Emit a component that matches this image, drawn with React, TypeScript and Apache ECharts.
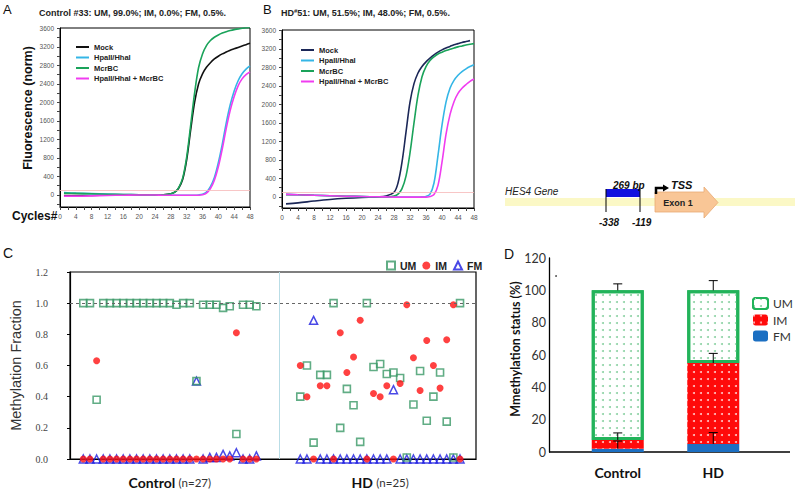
import React, { useEffect, useRef } from 'react';
import * as echarts from 'echarts';

const FONT = 'Liberation Sans';
const CAL = 'Lato';

// ---- Panel A / B : real-time PCR curves ----
const cycles = [1, 4, 8, 12, 16, 20, 24, 26, 28, 29, 30, 31, 32, 33, 34, 35, 36, 37, 38, 39, 40, 41, 42, 43, 44, 45, 46, 47, 48];
const fluorLabels = [0, 400, 800, 1200, 1600, 2000, 2400, 2800, 3200, 3600];
const fluorTicks = [-200, 0, 200, 400, 600, 800, 1000, 1200, 1400, 1600, 1800, 2000, 2200, 2400, 2600, 2800, 3000, 3200, 3400, 3600];
const curveNames = ['Mock', 'HpaII/HhaI', 'McrBC', 'HpaII/HhaI + McrBC'];

const mockA = [-15, -15, -10, -5, 0, 0, 0, 5, 25, 60, 150, 340, 760, 1400, 2000, 2400, 2620, 2760, 2860, 2940, 3000, 3050, 3090, 3130, 3160, 3190, 3220, 3250, 3280];
const hpaA = [50, 40, 30, 20, 10, 5, 0, -5, -5, -5, -5, -5, -5, -5, -5, 0, 15, 60, 180, 380, 700, 1100, 1560, 1950, 2250, 2470, 2620, 2720, 2790];
const mcrA = [40, 35, 25, 15, 10, 5, 0, 5, 25, 60, 160, 370, 820, 1500, 2200, 2750, 3050, 3230, 3340, 3410, 3460, 3500, 3530, 3555, 3575, 3590, 3605, 3615, 3625];
const bothA = [-25, -25, -20, -10, -5, 0, 0, -5, -5, -5, -5, -5, -5, -5, -5, -5, 5, 40, 140, 320, 610, 1000, 1440, 1830, 2130, 2360, 2510, 2600, 2660];

const mockB = [-150, -130, -90, -55, -30, -12, 0, 20, 100, 300, 750, 1400, 2050, 2450, 2680, 2820, 2920, 3000, 3070, 3130, 3180, 3220, 3255, 3290, 3315, 3340, 3360, 3380, null];
const hpaB = [55, 45, 35, 25, 15, 8, 2, 0, -5, -5, -5, -5, -5, -5, -5, 0, 10, 60, 300, 900, 1550, 2050, 2350, 2520, 2630, 2710, 2770, 2820, 2860];
const mcrB = [50, 45, 35, 25, 15, 8, 2, 0, 20, 60, 180, 450, 950, 1600, 2200, 2600, 2820, 2950, 3030, 3090, 3130, 3165, 3195, 3220, 3245, 3265, 3285, 3300, 3315];
const bothB = [55, 45, 35, 25, 15, 8, 2, 0, -5, -5, -5, -5, -5, -5, -5, -5, -5, 10, 50, 250, 750, 1350, 1780, 2060, 2240, 2350, 2430, 2500, 2550];
const threshold = 100;

// ---- Panel C : methylation fractions per sample ----
const controlUM = [1.0, 1.0, 0.38, 1.0, 1.0, 1.0, 1.0, 1.0, 1.0, 1.0, 1.0, 1.0, 1.0, 1.0, 0.99, 1.0, 1.0, 0.5, 0.99, 0.99, 0.99, 0.97, 0.98, 0.16, 0.99, 0.99, 0.98];
const controlIM = [0, 0, 0.63, 0, 0, 0, 0, 0, 0, 0, 0, 0, 0, 0, 0, 0, 0, 0, 0, 0, 0, 0, 0, 0.81, 0, 0, 0];
const controlFM = [0, 0, 0, 0, 0, 0, 0, 0, 0, 0, 0, 0, 0, 0, 0, 0, 0, 0.5, 0, 0.01, 0.01, 0.03, 0.02, 0.04, 0, 0, 0.02];
const hdUM = [0.40, 0.60, 0.105, 0.54, 0.54, 1.0, 0.20, 0.45, 0.345, 0.11, 1.0, 0.59, 0.61, 0.545, 0.555, 0.52, 0.01, 0.35, 0.565, 0.245, 0.40, 0.555, 0.24, 0.01, 1.0];
const hdIM = [0.60, 0.40, 0, 0.47, 0.47, 0, 0.81, 0.555, 0.655, 0.89, 0, 0.42, 0.40, 0.47, 0, 0.485, 0.99, 0.65, 0.44, 0.76, 0.60, 0.455, 0.765, 0.99, 0];
const hdFM = [0, 0, 0.89, 0, 0, 0, 0, 0, 0, 0, 0, 0, 0, 0, 0.445, 0, 0, 0, 0, 0, 0, 0, 0, 0, 0];
const controlPos = controlUM.map((_, i) => i + 1);
const hdPos = hdUM.map((_, i) => 33.6 + i);
const groupLabels = ['Control', 'HD'];
const groupN = [27, 25];

// ---- Panel D : mean methylation status ----
const dCategories = ['Control', 'HD'];
const dFM = [2, 5];
const dIM = [5.5, 50];
const dUM = [92.5, 45];
const dFMerr = [4.8, 7];
const dIMerr = [4.3, 6];
const dUMerr = [4, 6];

const split = (n: string) => n.split('|')[1];

function curve(prefix: string, name: string, vals: (number | null)[], color: string, idx: number, mark: boolean) {
  const s: any = {
    type: 'line',
    name: prefix + '|' + name,
    xAxisIndex: idx,
    yAxisIndex: idx,
    data: cycles.map((c, i) => [c, vals[i]]).filter((p) => p[1] !== null),
    showSymbol: false,
    symbol: 'none',
    smooth: 0.35,
    lineStyle: { color, width: 1.6 },
    itemStyle: { color },
  };
  if (mark) {
    s.markLine = {
      silent: true,
      symbol: 'none',
      label: { show: false },
      lineStyle: { color: '#f6b8b8', width: 0.8, type: 'solid' },
      data: [{ yAxis: threshold }],
    };
  }
  return s;
}

function errorBars(api: any) {
  const x = api.value(0);
  const base = api.value(1);
  const err = api.value(2);
  const p0 = api.coord([x, base]);
  const p1 = api.coord([x, base + err]);
  return {
    type: 'group',
    children: [
      { type: 'line', shape: { x1: p0[0], y1: p0[1], x2: p1[0], y2: p1[1] }, style: { stroke: '#000', lineWidth: 1 } },
      { type: 'line', shape: { x1: p1[0] - 4.5, y1: p1[1], x2: p1[0] + 4.5, y2: p1[1] }, style: { stroke: '#000', lineWidth: 1 } },
    ],
  };
}

function buildOption(): any {
  const pcrX = (g: number) => ({
    gridIndex: g,
    type: 'value',
    min: 0,
    max: 48,
    interval: 4,
    axisLine: { show: true, onZero: false, lineStyle: { color: '#000', width: 1 } },
    axisTick: { show: true, length: 3, lineStyle: { color: '#444' } },
    minorTick: { show: true, splitNumber: 2, length: 3, lineStyle: { color: '#444' } },
    axisLabel: { fontSize: 6.5, color: '#555', margin: 6, fontFamily: FONT },
    splitLine: { show: false },
    minorSplitLine: { show: false },
  });
  const pcrY = (g: number, min: number) => ({
    gridIndex: g,
    type: 'value',
    min,
    max: 3610,
    axisLine: { show: true, onZero: false, lineStyle: { color: '#000', width: 1 } },
    axisTick: { show: true, customValues: fluorTicks, length: 3, lineStyle: { color: '#444' } },
    axisLabel: { customValues: fluorLabels, fontSize: 6.5, color: '#555', margin: 6, fontFamily: FONT, formatter: (v: number) => String(v) },
    splitLine: { show: false },
  });
  const pcrLegend = (prefix: string, left: number, top: number, colors: string[]) => ({
    orient: 'vertical',
    left,
    top,
    icon: 'rect',
    itemWidth: 13,
    itemHeight: 2,
    itemGap: 0.5,
    selectedMode: false,
    data: curveNames.map((n, i) => ({ name: prefix + '|' + n, itemStyle: { color: colors[i] } })),
    formatter: split,
    textStyle: { fontSize: 7.5, fontWeight: 'bold', color: '#222', lineHeight: 10, fontFamily: FONT },
  });
  const colA = ['#111111', '#35b6e6', '#1aa35a', '#f03cf0'];
  const colB = ['#1b2757', '#35b6e6', '#1aa35a', '#f03cf0'];

  const umStyle = { color: 'transparent', borderColor: '#3a9866', borderWidth: 1.6 };
  const fmStyle = { color: 'transparent', borderColor: '#1c1ce0', borderWidth: 1.5 };
  const imStyle = { color: '#ff1212' };

  const cumIM = dFM.map((v, i) => v + dIM[i]);
  const cumUM = cumIM.map((v, i) => v + dUM[i]);

  return {
    animation: false,
    backgroundColor: '#ffffff',
    textStyle: { fontFamily: FONT },
    grid: [
      { left: 60, top: 28, width: 190, height: 179, show: true, borderColor: '#000', borderWidth: 1 },
      { left: 282, top: 30, width: 192, height: 178, show: true, borderColor: '#000', borderWidth: 1 },
      { left: 60, top: 272, width: 416, height: 187, show: true, borderColor: '#000', borderWidth: 1.2 },
      { left: 570, top: 258, width: 191, height: 194 },
    ],
    xAxis: [
      pcrX(0),
      pcrX(1),
      {
        gridIndex: 2,
        type: 'value',
        min: -1,
        max: 60,
        axisLine: { show: true, onZero: false, lineStyle: { color: '#000', width: 1.2 } },
        axisTick: { show: false },
        splitLine: { show: false },
        axisLabel: {
          customValues: [14, 45.6],
          margin: 16,
          formatter: (v: number) => {
            const k = v < 30 ? 0 : 1;
            return '{b|' + groupLabels[k] + '} {n|(n=' + groupN[k] + ')}';
          },
          rich: {
            b: { fontSize: 14, fontWeight: 'bold', color: '#111', fontFamily: CAL },
            n: { fontSize: 11.5, color: '#333', fontFamily: CAL },
          },
        },
      },
      {
        gridIndex: 3,
        type: 'category',
        data: dCategories,
        axisLine: { show: false },
        axisTick: { show: false },
        axisLabel: { fontSize: 14, fontWeight: 'bold', color: '#111', margin: 13, fontFamily: CAL },
      },
    ],
    yAxis: [
      pcrY(0, -260),
      pcrY(1, -240),
      {
        gridIndex: 2,
        type: 'value',
        min: 0,
        max: 1.2,
        interval: 0.2,
        name: 'Methylation Fraction',
        nameLocation: 'middle',
        nameGap: 47,
        nameTextStyle: { fontSize: 14.5, color: '#333', fontFamily: FONT },
        axisLine: { show: true, onZero: false, lineStyle: { color: '#000', width: 1.2 } },
        axisTick: { show: true, length: 3, lineStyle: { color: '#000' } },
        axisLabel: { fontSize: 10, color: '#444', margin: 22, fontFamily: 'Liberation Serif', formatter: (v: number) => v.toFixed(1) },
        splitLine: { show: false },
      },
      {
        gridIndex: 3,
        type: 'value',
        min: 0,
        max: 120,
        interval: 20,
        offset: 21,
        axisLine: { show: true, onZero: false, lineStyle: { color: '#000', width: 1.3 } },
        axisTick: { show: false },
        axisLabel: { fontSize: 12.5, color: '#333', margin: 3, fontFamily: CAL },
        splitLine: { show: false },
      },
    ],
    legend: [
      pcrLegend('A', 71, 37, colA),
      pcrLegend('B', 296, 40, colB),
      {
        left: 381,
        top: 255,
        itemWidth: 8,
        itemHeight: 8,
        itemGap: 6,
        selectedMode: false,
        data: ['C|UM', 'C|IM', 'C|FM'],
        formatter: split,
        textStyle: { fontSize: 10.5, fontWeight: 'bold', color: '#222', fontFamily: FONT },
      },
      {
        orient: 'vertical',
        left: 752,
        top: 297,
        padding: 0,
        itemWidth: 15,
        itemHeight: 11,
        itemGap: 4,
        selectedMode: false,
        data: ['D|UM', 'D|IM', 'D|FM'],
        formatter: split,
        textStyle: { fontSize: 12, color: '#333', lineHeight: 11, fontFamily: CAL },
      },
    ],
    series: [
      curve('A', curveNames[0], mockA, colA[0], 0, true),
      curve('A', curveNames[1], hpaA, colA[1], 0, false),
      curve('A', curveNames[2], mcrA, colA[2], 0, false),
      curve('A', curveNames[3], bothA, colA[3], 0, false),
      curve('B', curveNames[0], mockB, colB[0], 1, true),
      curve('B', curveNames[1], hpaB, colB[1], 1, false),
      curve('B', curveNames[2], mcrB, colB[2], 1, false),
      curve('B', curveNames[3], bothB, colB[3], 1, false),
      {
        type: 'scatter',
        name: 'C|FM',
        xAxisIndex: 2,
        yAxisIndex: 2,
        symbol: 'triangle',
        symbolSize: 8,
        itemStyle: fmStyle,
        data: [...controlPos.map((x, i) => [x, controlFM[i]]), ...hdPos.map((x, i) => [x, hdFM[i]])],
        markLine: {
          silent: true,
          symbol: 'none',
          label: { show: false },
          data: [
            { yAxis: 1.0, lineStyle: { type: [3, 3], color: '#666', width: 1 } },
            { xAxis: 30.4, lineStyle: { type: 'solid', color: '#b9dde6', width: 1 } },
          ],
        },
      },
      {
        type: 'scatter',
        name: 'C|UM',
        xAxisIndex: 2,
        yAxisIndex: 2,
        symbol: 'rect',
        symbolSize: 7,
        itemStyle: umStyle,
        data: [...controlPos.map((x, i) => [x, controlUM[i]]), ...hdPos.map((x, i) => [x, hdUM[i]])],
      },
      {
        type: 'scatter',
        name: 'C|IM',
        xAxisIndex: 2,
        yAxisIndex: 2,
        symbol: 'circle',
        symbolSize: 7,
        itemStyle: imStyle,
        data: [...controlPos.map((x, i) => [x, controlIM[i]]), ...hdPos.map((x, i) => [x, hdIM[i]])],
      },
      {
        type: 'bar',
        name: 'D|FM',
        xAxisIndex: 3,
        yAxisIndex: 3,
        stack: 'd',
        barWidth: 52,
        itemStyle: { color: '#1b6fc2' },
        data: dFM,
      },
      {
        type: 'bar',
        name: 'D|IM',
        xAxisIndex: 3,
        yAxisIndex: 3,
        stack: 'd',
        barWidth: 52,
        itemStyle: {
          color: '#ff0a0a',
          decal: { symbol: 'circle', symbolSize: 1, color: 'rgba(255,255,255,0.75)', dashArrayX: [1.4, 4.6], dashArrayY: [1.4, 4.6] },
        },
        data: dIM,
      },
      {
        type: 'bar',
        name: 'D|UM',
        xAxisIndex: 3,
        yAxisIndex: 3,
        stack: 'd',
        barWidth: 52,
        itemStyle: {
          color: '#ffffff',
          borderColor: '#22b35a',
          borderWidth: 3,
          decal: { symbol: 'circle', symbolSize: 1, color: '#8fd3a6', dashArrayX: [1.4, 4.6], dashArrayY: [1.4, 4.6] },
        },
        data: dUM,
      },
      {
        type: 'custom',
        name: 'errors',
        xAxisIndex: 3,
        yAxisIndex: 3,
        z: 10,
        renderItem: (_p: any, api: any) => errorBars(api),
        encode: { x: 0, y: 1 },
        data: [
          ...dCategories.map((_, i) => [i, dFM[i], dFMerr[i]]),
          ...dCategories.map((_, i) => [i, cumIM[i], dIMerr[i]]),
          ...dCategories.map((_, i) => [i, cumUM[i], dUMerr[i]]),
        ],
      },
    ],
    graphic: [
      { type: 'text', x: 3, y: 3, style: { text: 'A', fontSize: 13, fill: '#111', fontFamily: FONT } },
      { type: 'text', x: 263, y: 3, style: { text: 'B', fontSize: 13, fill: '#111', fontFamily: FONT } },
      { type: 'text', x: 3, y: 246, style: { text: 'C', fontSize: 14, fill: '#111', fontFamily: FONT } },
      { type: 'text', x: 504, y: 247, style: { text: 'D', fontSize: 14, fill: '#111', fontFamily: FONT } },
      {
        type: 'text', x: 39, y: 13,
        style: { text: 'Control #33: UM, 99.0%; IM, 0.0%; FM, 0.5%.', fontSize: 9, fontWeight: 'bold', fill: '#222', fontFamily: FONT, verticalAlign: 'middle' },
      },
      {
        type: 'text', x: 281, y: 13,
        style: {
          text: '{a|HD}{s|#}{a|51: UM, 51.5%; IM, 48.0%; FM, 0.5%.}',
          verticalAlign: 'middle',
          rich: {
            a: { fontSize: 9, fontWeight: 'bold', fill: '#222', color: '#222', fontFamily: FONT },
            s: { fontSize: 6, fontWeight: 'bold', fill: '#222', color: '#222', fontFamily: FONT, padding: [0, 0, 5, 0] },
          },
        },
      },
      {
        type: 'text', x: 28, y: 108, rotation: Math.PI / 2,
        style: { text: 'Fluorescence (norm)', fontSize: 12.5, fontWeight: 'bold', fill: '#111', fontFamily: FONT, align: 'center', verticalAlign: 'middle' },
      },
      { type: 'text', x: 12, y: 216, style: { text: 'Cycles#', fontSize: 12, fontWeight: 'bold', fill: '#111', fontFamily: FONT, verticalAlign: 'middle' } },
      // gene diagram
      { type: 'rect', shape: { x: 505, y: 198, width: 290, height: 8 }, style: { fill: '#fbf8c6' } },
      { type: 'text', x: 505, y: 191, style: { text: 'HES4 Gene', fontSize: 10, fontStyle: 'italic', fill: '#222', fontFamily: FONT, verticalAlign: 'middle' } },
      { type: 'rect', shape: { x: 606, y: 189, width: 34, height: 8 }, style: { fill: '#1212e0' } },
      { type: 'line', shape: { x1: 606, y1: 189, x2: 606, y2: 212 }, style: { stroke: '#000', lineWidth: 1 } },
      { type: 'line', shape: { x1: 640, y1: 189, x2: 640, y2: 212 }, style: { stroke: '#000', lineWidth: 1 } },
      { type: 'text', x: 613, y: 185, style: { text: '269 bp', fontSize: 10, fontWeight: 'bold', fontStyle: 'italic', fill: '#111', fontFamily: FONT, verticalAlign: 'middle' } },
      { type: 'text', x: 599, y: 222, style: { text: '-338', fontSize: 10, fontWeight: 'bold', fontStyle: 'italic', fill: '#111', fontFamily: FONT, verticalAlign: 'middle' } },
      { type: 'text', x: 632, y: 222, style: { text: '-119', fontSize: 10, fontWeight: 'bold', fontStyle: 'italic', fill: '#111', fontFamily: FONT, verticalAlign: 'middle' } },
      {
        type: 'polygon',
        shape: { points: [[655, 192], [704, 192], [704, 187], [718, 202.5], [704, 218], [704, 212], [655, 212]] },
        style: { fill: '#f9c696', stroke: '#e8aa74', lineWidth: 0.8 },
      },
      { type: 'text', x: 678, y: 203, style: { text: 'Exon 1', fontSize: 9, fontWeight: 'bold', fill: '#222', fontFamily: FONT, align: 'center', verticalAlign: 'middle' } },
      { type: 'polyline', shape: { points: [[656, 194], [656, 188], [664, 188]] }, style: { stroke: '#000', lineWidth: 2.5, fill: 'none' } },
      { type: 'polygon', shape: { points: [[663, 184.5], [669, 188], [663, 191.5]] }, style: { fill: '#000' } },
      { type: 'text', x: 671, y: 185, style: { text: 'TSS', fontSize: 11, fontWeight: 'bold', fontStyle: 'italic', fill: '#111', fontFamily: FONT, verticalAlign: 'middle' } },
      // panel D extras
      {
        type: 'text', x: 515, y: 349, rotation: Math.PI / 2,
        style: { text: 'Mmethylation status (%)', fontSize: 12.5, fontWeight: 'bold', fill: '#111', fontFamily: CAL, align: 'center', verticalAlign: 'middle' },
      },
      { type: 'line', shape: { x1: 549, y1: 452, x2: 790, y2: 452 }, style: { stroke: '#000', lineWidth: 1.3 } },
      { type: 'circle', shape: { cx: 556, cy: 276, r: 0.8 }, style: { fill: '#333' } },
    ],
  };
}

export default function App() {
  const ref = useRef<HTMLDivElement>(null);
  useEffect(() => {
    if (!ref.current) return;
    const chart = echarts.init(ref.current, null, { renderer: 'svg' });
    chart.setOption(buildOption());
    return () => chart.dispose();
  }, []);
  return (
    <div
      ref={ref}
      style={{ position: 'absolute', left: 0, top: 0, width: 795, height: 493, background: '#fff' }}
    />
  );
}
